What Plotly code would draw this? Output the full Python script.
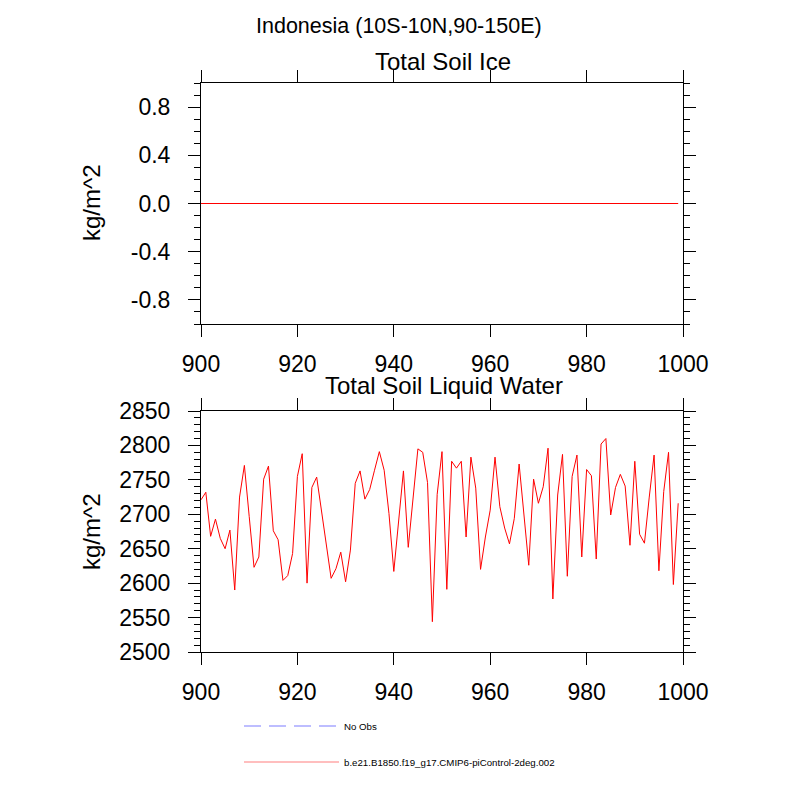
import plotly.graph_objects as go

# model years
years = list(range(900, 1000))

# Total Soil Ice (flat zero line)
soil_ice = [0.0] * 100

# Total Soil Liquid Water, kg/m^2
soil_liq = [
    2721, 2732, 2668, 2693, 2665, 2650, 2677, 2590, 2725, 2771,
    2697, 2623, 2638, 2751, 2770, 2676, 2663, 2604, 2611, 2643,
    2755, 2788, 2600, 2739, 2754, 2704, 2653, 2607, 2621, 2645,
    2602, 2648, 2745, 2763, 2722, 2736, 2764, 2791, 2764, 2701,
    2617, 2690, 2763, 2652, 2723, 2795, 2790, 2746, 2544, 2729,
    2791, 2591, 2777, 2767, 2777, 2667, 2783, 2738, 2620, 2667,
    2706, 2783, 2711, 2680, 2657, 2694, 2773, 2699, 2626, 2751,
    2716, 2740, 2796, 2577, 2728, 2787, 2610, 2755, 2786, 2638,
    2765, 2756, 2635, 2802, 2810, 2699, 2739, 2758, 2741, 2655,
    2777, 2671, 2658, 2725, 2786, 2618, 2733, 2790, 2598, 2716,
]

ice_tickvals = [-0.8, -0.4, 0.0, 0.4, 0.8]
ice_ticktext = ["-0.8", "-0.4", "0.0", "0.4", "0.8"]

main_title = "Indonesia (10S-10N,90-150E)"
panel_titles = ["Total Soil Ice", "Total Soil Liquid Water"]
units = "kg/m^2"
legend_labels = ["No Obs", "b.e21.B1850.f19_g17.CMIP6-piControl-2deg.002"]

W = H = 800
OFF = 8  # page body margin
FONT = "Liberation Sans, Arial, Helvetica, sans-serif"


def px(x):
    return (x - OFF) / W


def py(y):
    return 1 - (y - OFF) / H


fig = go.Figure()
fig.add_trace(go.Scatter(x=years, y=soil_ice, mode="lines",
                         line=dict(color="red", width=1),
                         xaxis="x", yaxis="y", showlegend=False))
fig.add_trace(go.Scatter(x=years, y=soil_liq, mode="lines",
                         line=dict(color="red", width=1),
                         xaxis="x2", yaxis="y2", showlegend=False))

common = dict(
    showline=True, linecolor="black", linewidth=1, mirror="allticks",
    ticks="outside", ticklen=12, tickwidth=1, tickcolor="black",
    showgrid=False, zeroline=False, automargin=False,
    tickfont=dict(family=FONT, size=23, color="black"),
)

xdom = [px(201), px(683)]

fig.update_layout(
    width=W, height=H, autosize=False, showlegend=False,
    margin=dict(l=0, r=0, t=0, b=0, pad=0, autoexpand=False),
    paper_bgcolor="white", plot_bgcolor="white",
    xaxis=dict(domain=xdom, range=[900, 1000], dtick=20, tick0=900,
               anchor="y", ticklabelstandoff=7, **common),
    yaxis=dict(domain=[py(324), py(83)], range=[-1, 1],
               tickvals=ice_tickvals, ticktext=ice_ticktext,
               minor=dict(dtick=0.1, tick0=0, ticks="outside", ticklen=6,
                          tickcolor="black", tickwidth=1),
               anchor="x", ticklabelstandoff=13, **common),
    xaxis2=dict(domain=xdom, range=[900, 1000], dtick=20, tick0=900,
                anchor="y2", ticklabelstandoff=7, **common),
    yaxis2=dict(domain=[py(652), py(411)], range=[2500, 2850],
                dtick=50, tick0=2500,
                minor=dict(dtick=10, tick0=2500, ticks="outside", ticklen=6,
                           tickcolor="black", tickwidth=1),
                anchor="x2", ticklabelstandoff=13, **common),
)

ann = [
    dict(text=main_title, x=px(399), y=py(26), font=dict(size=21.5)),
    dict(text=panel_titles[0], x=px(443), y=py(61), font=dict(size=24)),
    dict(text=panel_titles[1], x=px(444), y=py(386), font=dict(size=24)),
    dict(text=units, x=px(91), y=py(203), textangle=-90, font=dict(size=24)),
    dict(text=units, x=px(91), y=py(532), textangle=-90, font=dict(size=24)),
]
for a in ann:
    a.update(xref="paper", yref="paper", showarrow=False,
             xanchor="center", yanchor="middle")
    a["font"].update(family=FONT, color="black")
    fig.add_annotation(**a)

# legend drawn below the plots, NCL style
leg_y = [726, 762]
leg_style = [dict(color="#a8a8ff", width=1.5, dash="17px,8px"),
             dict(color="#ffa8a8", width=1.5)]
for label, ly, st in zip(legend_labels, leg_y, leg_style):
    fig.add_shape(type="line", xref="paper", yref="paper",
                  x0=px(244), x1=px(339), y0=py(ly), y1=py(ly), line=st)
    fig.add_annotation(text=label, xref="paper", yref="paper",
                       x=px(342), y=py(ly), xanchor="left", yanchor="middle",
                       showarrow=False,
                       font=dict(family=FONT, size=9.7, color="black"))

fig.write_html("out.html")
